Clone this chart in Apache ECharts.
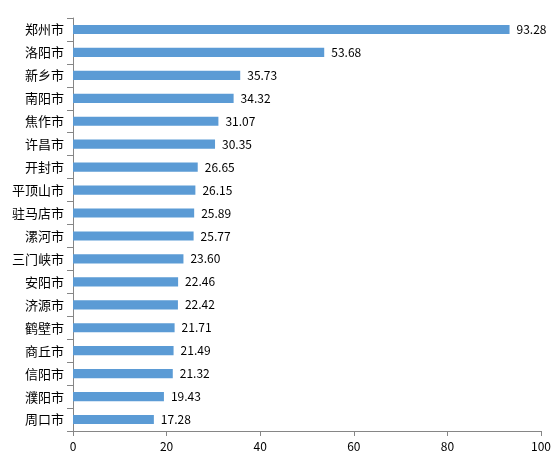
<!DOCTYPE html>
<html>
<head>
<meta charset="utf-8">
<script src="https://cdn.jsdelivr.net/npm/echarts@6/dist/echarts.min.js"></script>
<style>
  html, body { margin: 0; padding: 0; background: #fff; }
  #chart { width: 554px; height: 460px; }
</style>
</head>
<body>
<div id="chart"></div>
<script>
var cities = ['郑州市', '洛阳市', '新乡市', '南阳市', '焦作市', '许昌市', '开封市', '平顶山市', '驻马店市',
    '漯河市', '三门峡市', '安阳市', '济源市', '鹤壁市', '商丘市', '信阳市', '濮阳市', '周口市'];
var values = [93.28, 53.68, 35.73, 34.32, 31.07, 30.35, 26.65, 26.15, 25.89,
    25.77, 23.60, 22.46, 22.42, 21.71, 21.49, 21.32, 19.43, 17.28];
var xTicks = [0, 20, 40, 60, 80, 100];

var axisColor = '#868686';
var fontFamily = '"Noto Sans CJK SC", "Microsoft YaHei", sans-serif';

var chart = echarts.init(document.getElementById('chart'));
chart.setOption({
    animation: false,
    grid: {left: 73, right: 13, top: 18, bottom: 29, containLabel: false},
    xAxis: {
        type: 'value',
        min: xTicks[0],
        max: xTicks[xTicks.length - 1],
        interval: 20,
        axisLine: {show: true, lineStyle: {color: axisColor}},
        axisTick: {show: true, length: 5, lineStyle: {color: axisColor}},
        splitLine: {show: false},
        axisLabel: {color: '#000', fontSize: 12, fontFamily: fontFamily, margin: 9}
    },
    yAxis: {
        type: 'category',
        inverse: true,
        data: cities,
        axisLine: {show: true, lineStyle: {color: axisColor}},
        axisTick: {show: true, length: 6, lineStyle: {color: axisColor}},
        axisLabel: {color: '#000', fontSize: 13, fontFamily: fontFamily, margin: 9}
    },
    series: [{
        type: 'bar',
        data: values,
        barWidth: '40%',
        itemStyle: {color: '#5b9bd5'},
        label: {
            show: true,
            position: 'right',
            distance: 7,
            color: '#000',
            fontSize: 12,
            fontFamily: fontFamily,
            formatter: function (p) { return p.value.toFixed(2); }
        }
    }]
});
</script>
</body>
</html>
